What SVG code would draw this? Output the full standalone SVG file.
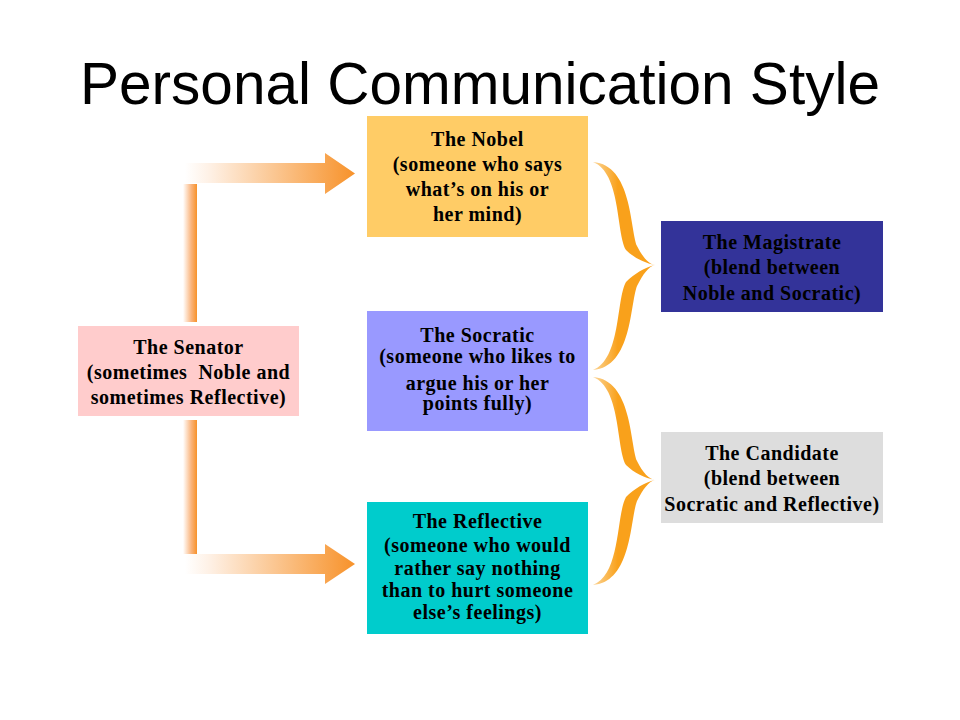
<svg xmlns="http://www.w3.org/2000/svg" width="960" height="720" viewBox="0 0 960 720">
<defs>
<style>
.t{font-family:"Liberation Serif","Times New Roman",serif;font-weight:bold;font-size:20px;letter-spacing:0.5px;fill:#000;text-anchor:middle}
.title{font-family:"Liberation Sans",Arial,sans-serif;font-size:58.5px;fill:#000;text-anchor:middle}
</style>
<linearGradient id="gh" x1="0" y1="0" x2="1" y2="0">
<stop offset="0" stop-color="#FFFFFF"/>
<stop offset="0.15" stop-color="#FEF0E4"/>
<stop offset="1" stop-color="#F7922A"/>
</linearGradient>
<linearGradient id="gv" x1="0" y1="0" x2="1" y2="0">
<stop offset="0" stop-color="#FFFFFF"/>
<stop offset="0.6" stop-color="#FAB37A"/>
<stop offset="1" stop-color="#F7922A"/>
</linearGradient>
<linearGradient id="gb" x1="0" y1="0" x2="1" y2="0">
<stop offset="0" stop-color="#FBD69A"/>
<stop offset="0.4" stop-color="#F9A11B"/>
<stop offset="1" stop-color="#F9A11B"/>
</linearGradient>
<g id="brace">
<path fill="url(#gb)" d="M-62,-103 C-23,-100 -25,-37 -18,-19 C-12,-7 -6,-1 0,0 C-10,-2 -21,-7 -29,-15 C-39,-33 -34,-92 -62,-103 Z"/>
<path fill="url(#gb)" d="M-62,105 C-23,102 -25,39 -18,21 C-12,9 -6,1 0,0 C-10,2 -21,9 -29,17 C-39,35 -34,94 -62,105 Z"/>
</g>
</defs>
<rect width="960" height="720" fill="#FFFFFF"/>
<text class="title" x="480" y="104">Personal Communication Style</text>

<g id="connectors">
<rect x="183" y="184" width="14" height="138" fill="url(#gv)"/>
<rect x="183" y="420" width="14" height="134" fill="url(#gv)"/>
<path fill="url(#gh)" d="M185,163 H325 V153 L355,173.5 L325,194 V183 H185 Z"/>
<path fill="url(#gh)" d="M185,554 H325 V544 L355,564 L325,584 V574 H185 Z"/>
<use href="#brace" x="655" y="265"/>
<use href="#brace" x="655" y="480"/>
</g>

<g id="nobel">
<rect x="367" y="116" width="221" height="121" fill="#FFCC66"/>
<text class="t" x="477.5" y="146">The Nobel</text>
<text class="t" x="477.5" y="171">(someone who says</text>
<text class="t" x="477.5" y="196">what’s on his or</text>
<text class="t" x="477.5" y="221">her mind)</text>
</g>

<g id="socratic">
<rect x="367" y="311" width="221" height="120" fill="#9999FF"/>
<text class="t" x="477.5" y="342">The Socratic</text>
<text class="t" x="477.5" y="363">(someone who likes to</text>
<text class="t" x="477.5" y="390">argue his or her</text>
<text class="t" x="477.5" y="410">points fully)</text>
</g>

<g id="reflective">
<rect x="367" y="502" width="221" height="132" fill="#00CCCC"/>
<text class="t" x="477.5" y="528">The Reflective</text>
<text class="t" x="477.5" y="552">(someone who would</text>
<text class="t" x="477.5" y="575">rather say nothing</text>
<text class="t" x="477.5" y="597">than to hurt someone</text>
<text class="t" x="477.5" y="619">else’s feelings)</text>
</g>

<g id="senator">
<rect x="78" y="326" width="221" height="90" fill="#FFCCCC"/>
<text class="t" x="188.5" y="354">The Senator</text>
<text class="t" x="188.5" y="379" xml:space="preserve">(sometimes  Noble and</text>
<text class="t" x="188.5" y="404">sometimes Reflective)</text>
</g>

<g id="magistrate">
<rect x="661" y="221" width="222" height="91" fill="#333399"/>
<text class="t" x="772" y="249">The Magistrate</text>
<text class="t" x="772" y="274">(blend between</text>
<text class="t" x="772" y="300">Noble and Socratic)</text>
</g>

<g id="candidate">
<rect x="661" y="432" width="222" height="91" fill="#DDDDDD"/>
<text class="t" x="772" y="460">The Candidate</text>
<text class="t" x="772" y="485">(blend between</text>
<text class="t" x="772" y="511">Socratic and Reflective)</text>
</g>
</svg>
